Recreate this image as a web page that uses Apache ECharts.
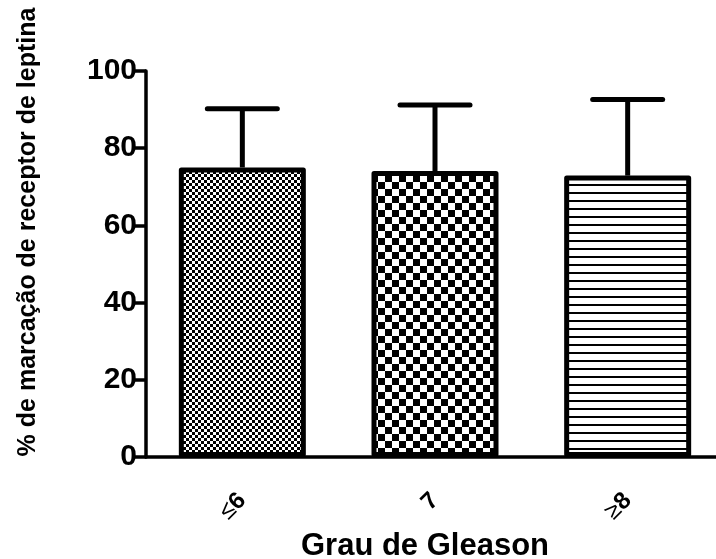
<!DOCTYPE html>
<html>
<head>
<meta charset="utf-8">
<script src="https://cdn.jsdelivr.net/npm/echarts@6/dist/echarts.min.js"></script>
<style>html,body{margin:0;padding:0;background:#fff;overflow:hidden;}#c{width:716px;height:559px;}</style>
</head>
<body>
<div id="c"></div>
<script>
const categories = ['≤6', '7', '≥8'];
const means = [75.0, 74.1, 72.9];
const sds = [15.2, 17.1, 19.7];
const yTicks = [0, 20, 40, 60, 80, 100];

function makePattern(kind) {
  const c = document.createElement('canvas');
  const ctx = c.getContext('2d');
  if (kind === 'fine') {
    c.width = 6; c.height = 6;
    ctx.fillStyle = '#fff'; ctx.fillRect(0, 0, 6, 6);
    ctx.fillStyle = '#000'; ctx.fillRect(0, 0, 3, 3); ctx.fillRect(3, 3, 3, 3);
  } else if (kind === 'coarse') {
    c.width = 14; c.height = 14;
    ctx.fillStyle = '#fff'; ctx.fillRect(0, 0, 14, 14);
    ctx.fillStyle = '#000'; ctx.fillRect(0, 0, 7, 7); ctx.fillRect(7, 7, 7, 7);
  } else {
    c.width = 8; c.height = 8;
    ctx.fillStyle = '#fff'; ctx.fillRect(0, 0, 8, 8);
    ctx.fillStyle = '#000'; ctx.fillRect(0, 0, 8, 2);
  }
  return { image: c, repeat: 'repeat' };
}
const patterns = [makePattern('fine'), makePattern('coarse'), makePattern('lines')];

const chart = echarts.init(document.getElementById('c'), null, { renderer: 'canvas', width: 716, height: 559 });
const FONT = "'Liberation Sans', Arial, sans-serif";

chart.setOption({
  backgroundColor: '#fff',
  animation: false,
  grid: { left: 146, top: 71, height: 386, width: 578, containLabel: false, outerBoundsMode: 'none' },
  xAxis: {
    type: 'category',
    data: categories,
    name: 'Grau de Gleason',
    nameLocation: 'middle',
    nameGap: 70,
    nameTextStyle: { fontFamily: FONT, fontWeight: 'bold', fontSize: 31, color: '#000', padding: [0, 20, 0, 0] },
    axisLine: { lineStyle: { color: '#000', width: 3.5 } },
    axisTick: { alignWithLabel: true, length: 13, lineStyle: { color: '#000', width: 3.5 } },
    axisLabel: {
      rotate: 45, margin: 40, color: '#000',
      fontFamily: FONT, fontSize: 24, fontWeight: 'bold',
      formatter: function (v) {
        const first = v.charAt(0);
        if (first === '≤' || first === '≥') return '{s|' + first + '}{b|' + v.slice(1) + '}';
        return '{b|' + v + '}';
      },
      rich: {
        s: { fontFamily: FONT, fontSize: 24, fontWeight: 'normal', color: '#000' },
        b: { fontFamily: FONT, fontSize: 24, fontWeight: 'bold', color: '#000' }
      }
    },
    splitLine: { show: false }
  },
  yAxis: {
    type: 'value',
    min: yTicks[0], max: yTicks[yTicks.length - 1], interval: yTicks[1] - yTicks[0],
    name: '% de marcação de receptor de leptina',
    nameLocation: 'middle',
    nameGap: 105,
    nameTextStyle: { fontFamily: FONT, fontWeight: 'bold', fontSize: 25, color: '#000', padding: [0, 0, 0, 64] },
    axisLine: { show: true, lineStyle: { color: '#000', width: 3.5 } },
    axisTick: { show: true, length: 11, lineStyle: { color: '#000', width: 3.5 } },
    axisLabel: { color: '#000', fontFamily: FONT, fontSize: 30, fontWeight: 'bold', margin: 9 },
    splitLine: { show: false }
  },
  series: [
    {
      type: 'custom',
      z: 1,
      data: categories.map((c, i) => [i, means[i], means[i] + sds[i]]),
      renderItem: function (params, api) {
        const x = api.coord([api.value(0), api.value(1)])[0];
        const y0 = api.coord([api.value(0), api.value(1)])[1];
        const y1 = api.coord([api.value(0), api.value(2)])[1];
        const half = 35;
        return {
          type: 'group',
          children: [
            { type: 'line', shape: { x1: x, y1: y0, x2: x, y2: y1 }, style: { stroke: '#000', lineWidth: 5 } },
            { type: 'line', shape: { x1: x - half, y1: y1, x2: x + half, y2: y1 }, style: { stroke: '#000', lineWidth: 5, lineCap: 'round' } }
          ]
        };
      }
    },
    {
      type: 'bar',
      z: 2,
      barWidth: 127,
      data: means.map((v, i) => ({
        value: v,
        itemStyle: { color: patterns[i], borderColor: '#000', borderWidth: 5, borderJoin: 'round' }
      }))
    }
  ]
});
</script>
</body>
</html>
